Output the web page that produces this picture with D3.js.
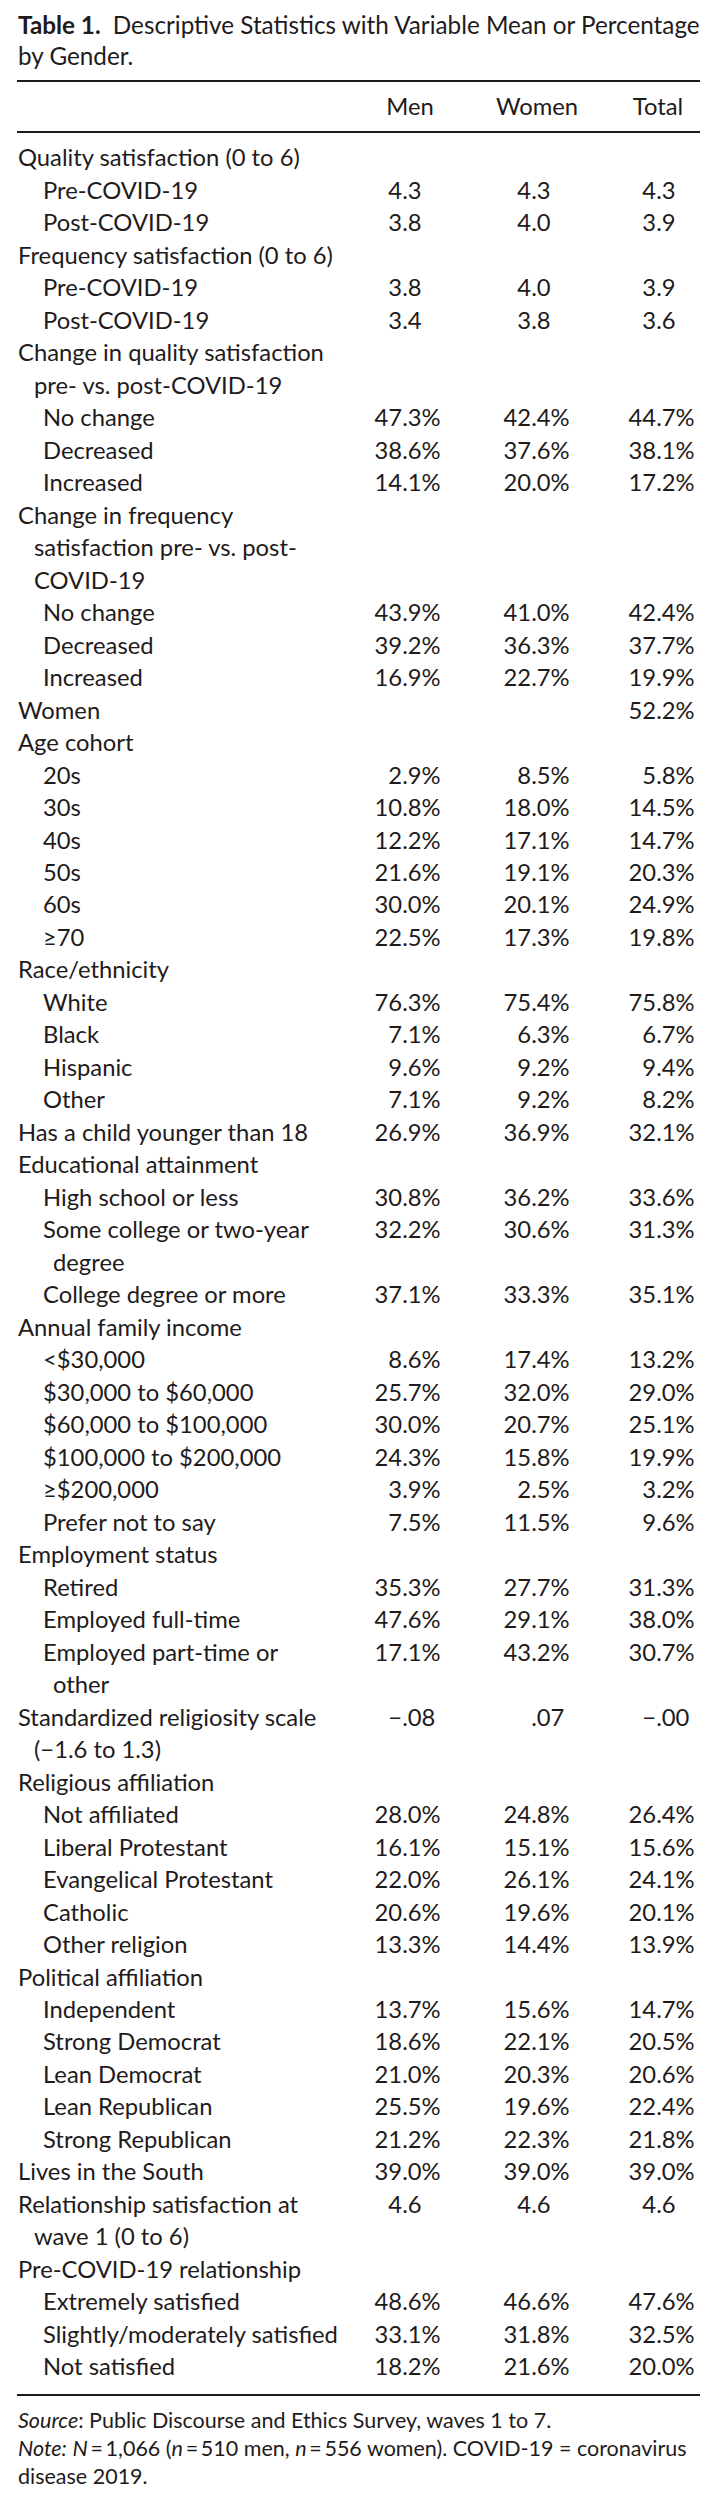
<!DOCTYPE html>
<html>
<head>
<meta charset="utf-8">
<script src="https://cdn.jsdelivr.net/npm/d3@7"></script>
<style>
body { margin: 0; background: #fff; }
svg text { font-family: Lato, "Open Sans", sans-serif; fill: #1f1b1c; }
</style>
</head>
<body>
<svg id="tableCanvas" width="705" height="2499"></svg>
<script>
// column headers
var columns = ["Men", "Women", "Total"];

// row labels, "|" marks a wrapped line
var rowLabels = [
    "Quality satisfaction (0 to 6)", "Pre-COVID-19", "Post-COVID-19",
    "Frequency satisfaction (0 to 6)", "Pre-COVID-19", "Post-COVID-19",
    "Change in quality satisfaction|pre- vs. post-COVID-19", "No change", "Decreased", "Increased",
    "Change in frequency|satisfaction pre- vs. post-|COVID-19", "No change", "Decreased", "Increased",
    "Women",
    "Age cohort", "20s", "30s", "40s", "50s", "60s", "\u226570",
    "Race/ethnicity", "White", "Black", "Hispanic", "Other",
    "Has a child younger than 18",
    "Educational attainment", "High school or less", "Some college or two-year|degree", "College degree or more",
    "Annual family income", "<$30,000", "$30,000 to $60,000", "$60,000 to $100,000", "$100,000 to $200,000", "\u2265$200,000", "Prefer not to say",
    "Employment status", "Retired", "Employed full-time", "Employed part-time or|other",
    "Standardized religiosity scale|(\u22121.6 to 1.3)",
    "Religious affiliation", "Not affiliated", "Liberal Protestant", "Evangelical Protestant", "Catholic", "Other religion",
    "Political affiliation", "Independent", "Strong Democrat", "Lean Democrat", "Lean Republican", "Strong Republican",
    "Lives in the South",
    "Relationship satisfaction at|wave 1 (0 to 6)",
    "Pre-COVID-19 relationship", "Extremely satisfied", "Slightly/moderately satisfied", "Not satisfied"
];

// 0 = variable heading, 1 = category under it
var rowLevels = [
    0, 1, 1,
    0, 1, 1,
    0, 1, 1, 1,
    0, 1, 1, 1,
    0,
    0, 1, 1, 1, 1, 1, 1,
    0, 1, 1, 1, 1,
    0,
    0, 1, 1, 1,
    0, 1, 1, 1, 1, 1, 1,
    0, 1, 1, 1,
    0,
    0, 1, 1, 1, 1, 1,
    0, 1, 1, 1, 1, 1,
    0,
    0,
    0, 1, 1, 1
];

var menValues = [
    "", "4.3", "3.8",
    "", "3.8", "3.4",
    "", "47.3%", "38.6%", "14.1%",
    "", "43.9%", "39.2%", "16.9%",
    "",
    "", "2.9%", "10.8%", "12.2%", "21.6%", "30.0%", "22.5%",
    "", "76.3%", "7.1%", "9.6%", "7.1%",
    "26.9%",
    "", "30.8%", "32.2%", "37.1%",
    "", "8.6%", "25.7%", "30.0%", "24.3%", "3.9%", "7.5%",
    "", "35.3%", "47.6%", "17.1%",
    "\u2212.08",
    "", "28.0%", "16.1%", "22.0%", "20.6%", "13.3%",
    "", "13.7%", "18.6%", "21.0%", "25.5%", "21.2%",
    "39.0%",
    "4.6",
    "", "48.6%", "33.1%", "18.2%"
];

var womenValues = [
    "", "4.3", "4.0",
    "", "4.0", "3.8",
    "", "42.4%", "37.6%", "20.0%",
    "", "41.0%", "36.3%", "22.7%",
    "",
    "", "8.5%", "18.0%", "17.1%", "19.1%", "20.1%", "17.3%",
    "", "75.4%", "6.3%", "9.2%", "9.2%",
    "36.9%",
    "", "36.2%", "30.6%", "33.3%",
    "", "17.4%", "32.0%", "20.7%", "15.8%", "2.5%", "11.5%",
    "", "27.7%", "29.1%", "43.2%",
    ".07",
    "", "24.8%", "15.1%", "26.1%", "19.6%", "14.4%",
    "", "15.6%", "22.1%", "20.3%", "19.6%", "22.3%",
    "39.0%",
    "4.6",
    "", "46.6%", "31.8%", "21.6%"
];

var totalValues = [
    "", "4.3", "3.9",
    "", "3.9", "3.6",
    "", "44.7%", "38.1%", "17.2%",
    "", "42.4%", "37.7%", "19.9%",
    "52.2%",
    "", "5.8%", "14.5%", "14.7%", "20.3%", "24.9%", "19.8%",
    "", "75.8%", "6.7%", "9.4%", "8.2%",
    "32.1%",
    "", "33.6%", "31.3%", "35.1%",
    "", "13.2%", "29.0%", "25.1%", "19.9%", "3.2%", "9.6%",
    "", "31.3%", "38.0%", "30.7%",
    "\u2212.00",
    "", "26.4%", "15.6%", "24.1%", "20.1%", "13.9%",
    "", "14.7%", "20.5%", "20.6%", "22.4%", "21.8%",
    "39.0%",
    "4.6",
    "", "47.6%", "32.5%", "20.0%"
];

var titleLines = [
    [{t: "Table 1.", b: true}, {t: "\u2002Descriptive Statistics with Variable Mean or Percentage"}],
    [{t: "by Gender."}]
];
var noteLines = [
    [{t: "Source", i: true}, {t: ": Public Discourse and Ethics Survey, waves 1 to 7."}],
    [{t: "Note:", i: true}, {t: " "}, {t: "N", i: true}, {t: "\u2009=\u20091,066 ("}, {t: "n", i: true},
     {t: "\u2009=\u2009510 men, "}, {t: "n", i: true}, {t: "\u2009=\u2009556 women). COVID-19 = coronavirus"}],
    [{t: "disease 2019."}]
];

var svg = d3.select("#tableCanvas"),
    width = +svg.attr("width"),
    height = +svg.attr("height");
var leftX = 17, rightX = 700;

function addRich(parent, segs, x, y, size) {
    var t = parent.append("text")
        .attr("x", x).attr("y", y).attr("dy", "0.35em")
        .attr("font-size", size);
    segs.forEach(function(s) {
        t.append("tspan")
            .attr("font-weight", s.b ? "bold" : null)
            .attr("font-style", s.i ? "italic" : null)
            .text(s.t);
    });
    return t;
}

function richWidth(segs, size) {
    var t = addRich(svg, segs, 0, -100, size);
    var w = t.node().getComputedTextLength();
    t.remove();
    return w;
}

// size fonts so text runs as wide as in the picture
var bodySize = 20 * 282 / richWidth([{t: "Quality satisfaction (0 to 6)"}], 20);
var titleSize = 20 * (rightX - leftX - 1) / richWidth(titleLines[0], 20);
var noteSize = 20 * (687 - leftX - 1) / richWidth(noteLines[1], 20);

// line positions
var lineCounts = rowLabels.map(function(d) { return d.split("|").length; });
var totalLines = d3.sum(lineCounts);
var y = d3.scaleLinear().domain([0, totalLines - 1]).range([158, 2367]);
var colRight = d3.scaleOrdinal().domain(columns).range([435, 564, 689]);
var headCenter = d3.scaleOrdinal().domain(columns).range([410, 537, 658]);
var pointOffset = richWidth([{t: ".3%"}], bodySize) - richWidth([{t: "."}], bodySize);

// title
titleLines.forEach(function(segs, i) {
    addRich(svg, segs, leftX + 1, 25.5 + i * 31.5, titleSize);
});

// rules
[81, 132, 2395].forEach(function(ry) {
    svg.append("line")
        .attr("x1", leftX).attr("x2", rightX)
        .attr("y1", ry).attr("y2", ry)
        .attr("stroke", "#1f1b1c")
        .attr("stroke-width", 1.8);
});

// column headers
svg.selectAll("text.colHead")
    .data(columns)
    .enter().append("text")
    .attr("class", "colHead")
    .attr("x", function(d) { return headCenter(d); })
    .attr("y", 107)
    .attr("dy", "0.35em")
    .attr("text-anchor", "middle")
    .attr("font-size", bodySize)
    .text(function(d) { return d; });

// body rows
var body = svg.append("g").attr("class", "rows");
var startLine = 0;
var valueSets = [menValues, womenValues, totalValues];

rowLabels.forEach(function(label, r) {
    var parts = label.split("|");
    var level = rowLevels[r];
    parts.forEach(function(p, k) {
        var x;
        if (level === 0) x = k === 0 ? 18 : 34;
        else x = k === 0 ? 43 : 53;
        body.append("text")
            .attr("x", x)
            .attr("y", y(startLine + k))
            .attr("dy", "0.35em")
            .attr("font-size", bodySize)
            .text(p);
    });

    valueSets.forEach(function(vals, c) {
        var v = vals[r];
        if (!v) return;
        var px = colRight(columns[c]) - pointOffset;
        var dot = v.indexOf(".");
        body.append("text")
            .attr("x", px)
            .attr("y", y(startLine))
            .attr("dy", "0.35em")
            .attr("text-anchor", "end")
            .attr("font-size", bodySize)
            .text(v.slice(0, dot));
        body.append("text")
            .attr("x", px)
            .attr("y", y(startLine))
            .attr("dy", "0.35em")
            .attr("font-size", bodySize)
            .text(v.slice(dot));
    });

    startLine += lineCounts[r];
});

// notes
noteLines.forEach(function(segs, i) {
    addRich(svg, segs, leftX + 1, 2420 + i * 28, noteSize);
});
</script>
</body>
</html>
